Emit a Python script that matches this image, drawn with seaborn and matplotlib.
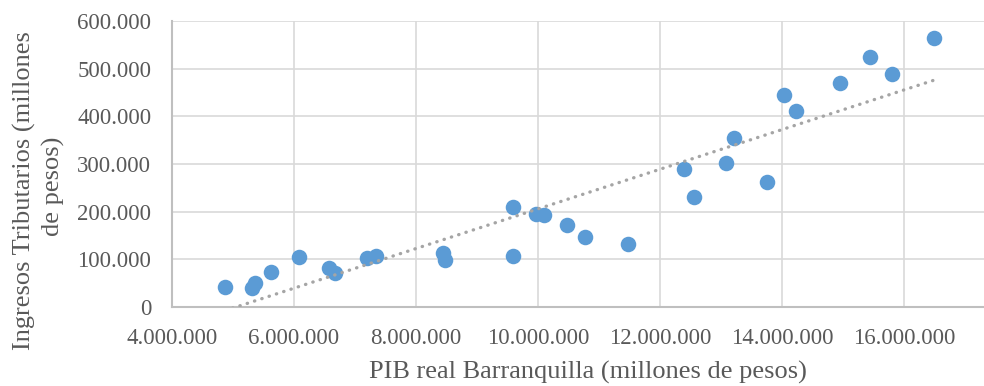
import numpy as np
import pandas as pd
import matplotlib
matplotlib.use("Agg")
import matplotlib.pyplot as plt
import seaborn as sns
from matplotlib.ticker import FuncFormatter, MultipleLocator

# PIB real Barranquilla (millones de pesos)
pib = [4874000, 5306000, 5360000, 5628000, 6080000, 6580000, 6667000, 7200000,
       7340000, 8448000, 8470000, 9596000, 9596000, 9960000, 10100000, 10480000,
       10765000, 11470000, 12390000, 12557000, 13080000, 13220000, 13750000,
       14040000, 14230000, 14950000, 15450000, 15810000, 16490000]
# Ingresos Tributarios (millones de pesos)
ingresos = [42600, 39200, 49700, 74000, 104900, 82500, 72000, 102000,
            107000, 112600, 99300, 209000, 107600, 194400, 193000, 172000,
            147500, 131500, 288800, 230000, 302000, 355000, 262000,
            445000, 411000, 469000, 524000, 489000, 563600]

df = pd.DataFrame({"pib": pib, "ingresos": ingresos})

sns.set_style("white")
plt.rcParams["font.family"] = ["Liberation Serif", "DejaVu Serif"]

fig = plt.figure(figsize=(9.84, 3.86), dpi=100)
ax = fig.add_axes([172 / 984, 79 / 386, 812 / 984, 286 / 386])

sns.scatterplot(data=df, x="pib", y="ingresos", ax=ax, color="#5B9BD5",
                s=125, linewidth=0, zorder=3)
sns.regplot(data=df, x="pib", y="ingresos", ax=ax, scatter=False, ci=None,
            line_kws=dict(color="#A5A5A5", lw=2.4, linestyle=(0, (0.1, 2.2)),
                          dash_capstyle="round", zorder=4))

ax.set_xlim(4000000, 4000000 + 812 / 61 * 1000000)
ax.set_ylim(0, 600000)
ax.xaxis.set_major_locator(MultipleLocator(2000000))
ax.yaxis.set_major_locator(MultipleLocator(100000))
fmt = FuncFormatter(lambda v, p: f"{v:,.0f}".replace(",", "."))
ax.xaxis.set_major_formatter(fmt)
ax.yaxis.set_major_formatter(fmt)

ax.grid(True, color="#D9D9D9", lw=1.2)
ax.set_axisbelow(True)
for s in ["top", "right"]:
    ax.spines[s].set_visible(False)
for s in ["left", "bottom"]:
    ax.spines[s].set_color("#BFBFBF")
    ax.spines[s].set_linewidth(1.5)
ax.tick_params(length=0, pad=15, labelsize=16.5, colors="#595959")
ax.set_xlabel("")
ax.set_ylabel("")

fig.text(588 / 984, 1 - 372 / 386, "PIB real Barranquilla (millones de pesos)",
         ha="center", va="center", fontsize=19, color="#595959")
fig.text(24 / 984, 1 - 191 / 386, "Ingresos Tributarios (millones",
         ha="center", va="center", rotation=90, fontsize=19, color="#595959")
fig.text(53 / 984, 1 - 186 / 386, "de pesos)",
         ha="center", va="center", rotation=90, fontsize=19, color="#595959")

fig.savefig("out.png", dpi=100)
